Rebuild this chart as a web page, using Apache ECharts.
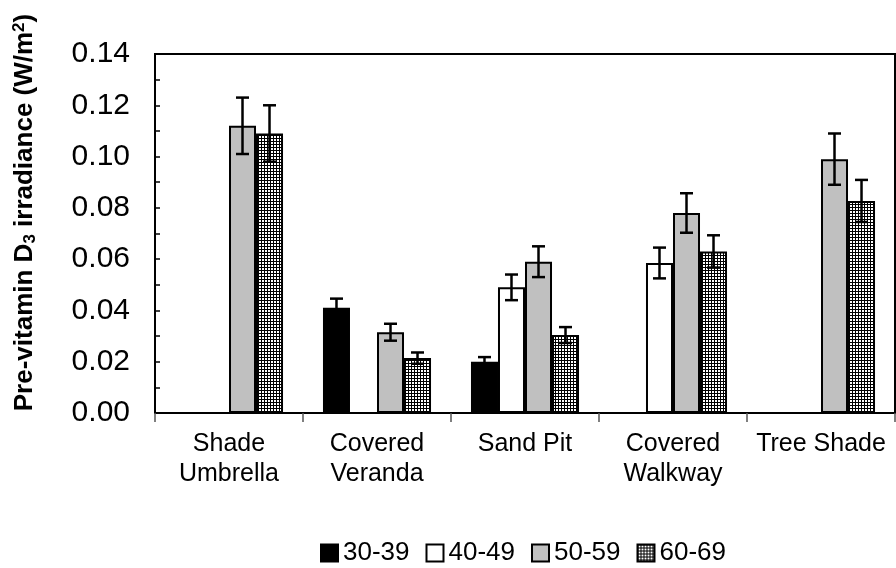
<!DOCTYPE html>
<html><head><meta charset="utf-8">
<script src="https://cdn.jsdelivr.net/npm/echarts@6/dist/echarts.min.js"></script>
<style>html,body{margin:0;padding:0;background:#fff}#c{width:896px;height:568px}</style>
</head><body><div id="c"></div>
<script>
var categories = ['Shade\nUmbrella', 'Covered\nVeranda', 'Sand Pit', 'Covered\nWalkway', 'Tree Shade'];
var seriesNames = ['30-39', '40-49', '50-59', '60-69'];
var v30 = [null, 0.041, 0.020, null, null];
var e30 = [null, 0.0036, 0.0018, null, null];
var v40 = [null, null, 0.049, 0.0585, null];
var e40 = [null, null, 0.005, 0.006, null];
var v50 = [0.112, 0.0315, 0.059, 0.078, 0.099];
var e50 = [0.011, 0.0033, 0.006, 0.0077, 0.010];
var v60 = [0.109, 0.0214, 0.0304, 0.063, 0.0827];
var e60 = [0.011, 0.0022, 0.0031, 0.0063, 0.0082];
var yTicks = { min: 0, max: 0.14, interval: 0.02 };

var values = [v30, v40, v50, v60];
var errors = [e30, e40, e50, e60];

var pc = document.createElement('canvas');
pc.width = 3; pc.height = 3;
var g = pc.getContext('2d');
g.fillStyle = '#fff'; g.fillRect(0, 0, 3, 3);
g.fillStyle = '#000'; g.fillRect(0, 0, 3, 1); g.fillRect(0, 0, 1, 3);
var hatch = { image: pc, repeat: 'repeat' };

var fills = ['#000000', '#ffffff', '#c0c0c0', hatch];
var GAP = 0.27;
var FONT = 'Liberation Sans, Arial, sans-serif';

var chart = echarts.init(document.getElementById('c'), null, { renderer: 'canvas' });

var series = [];
values.forEach(function (vals, i) {
  series.push({
    name: seriesNames[i], type: 'bar', data: vals,
    barGap: '0%', barCategoryGap: (GAP * 100) + '%',
    itemStyle: { color: fills[i], borderColor: '#000', borderWidth: 2 },
    emphasis: { disabled: true }, z: 2
  });
});
values.forEach(function (vals, i) {
  var d = [];
  vals.forEach(function (v, k) { if (v != null) d.push([k, v, errors[i][k]]); });
  series.push({
    type: 'custom', data: d, z: 5, silent: true,
    renderItem: function (params, api) {
      var k = api.value(0), v = api.value(1), e = api.value(2);
      var bw = api.size([1, 0])[0] * (1 - GAP) / 4;
      var cx = api.coord([k, v])[0] + (i - 1.5) * bw;
      var top = api.coord([k, v + e])[1];
      var bot = api.coord([k, v - e])[1];
      var cw = 6.5;
      var st = { stroke: '#000', lineWidth: 2.5 };
      return { type: 'group', children: [
        { type: 'line', shape: { x1: cx, y1: top, x2: cx, y2: bot }, style: st },
        { type: 'line', shape: { x1: cx - cw, y1: top, x2: cx + cw, y2: top }, style: st },
        { type: 'line', shape: { x1: cx - cw, y1: bot, x2: cx + cw, y2: bot }, style: st }
      ]};
    }
  });
});

chart.setOption({
  animation: false,
  backgroundColor: '#fff',
  grid: { left: 155, right: 1, top: 54, bottom: 155, show: true, borderColor: '#000', borderWidth: 2,
    containLabel: false, outerBoundsMode: 'none' },
  legend: {
    data: seriesNames, top: 540, left: 320, padding: 0,
    icon: 'rect', itemWidth: 17, itemHeight: 17, itemGap: 16,
    textStyle: { fontFamily: FONT, fontSize: 26, color: '#000', lineHeight: 17 },
    selectedMode: false
  },
  xAxis: {
    type: 'category', data: categories,
    axisLine: { lineStyle: { color: '#000', width: 2 } },
    axisTick: { show: true, length: 9, lineStyle: { color: '#555', width: 1.5 } },
    axisLabel: { interval: 0, fontFamily: FONT, fontSize: 25, color: '#000', lineHeight: 30, margin: 16 }
  },
  yAxis: {
    type: 'value', min: yTicks.min, max: yTicks.max, interval: yTicks.interval,
    axisLine: { show: true, lineStyle: { color: '#000', width: 2 } },
    axisTick: { show: true, inside: true, length: 5, lineStyle: { color: '#000', width: 1.5 } },
    minorTick: { show: true, splitNumber: 2, length: 5, lineStyle: { color: '#000', width: 1.5 } },
    splitLine: { show: false },
    axisLabel: { fontFamily: FONT, fontSize: 30, color: '#000', margin: 25,
      formatter: function (v) { return v.toFixed(2); } },
    name: '{a|Pre-vitamin D}{sub|3}{a| irradiance (W/m}{sup|2}{a|)}',
    nameLocation: 'middle', nameRotate: 90, nameGap: 114,
    nameTextStyle: {
      padding: [0, 0, 0, 42],
      rich: {
        a: { fontFamily: FONT, fontSize: 26, fontWeight: 'bold', color: '#000', lineHeight: 32 },
        sub: { fontFamily: FONT, fontSize: 17, fontWeight: 'bold', color: '#000', lineHeight: 32, padding: [11, 0, 0, 0] },
        sup: { fontFamily: FONT, fontSize: 17, fontWeight: 'bold', color: '#000', lineHeight: 32, padding: [0, 0, 11, 0] }
      }
    }
  },
  series: series
});
</script>
</body></html>
